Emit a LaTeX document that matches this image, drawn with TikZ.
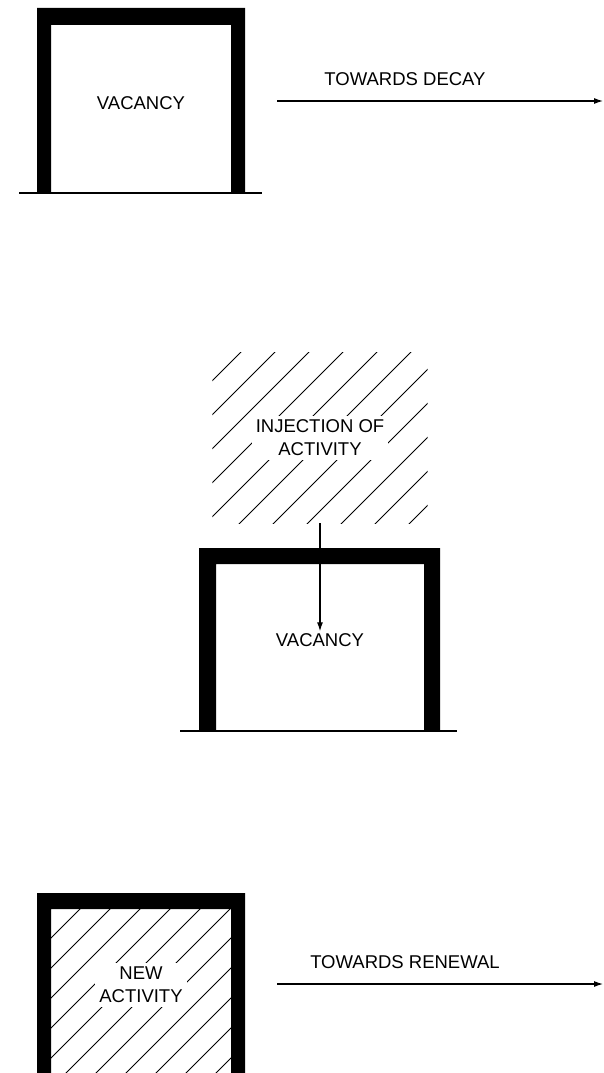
\documentclass[tikz,border=0pt]{standalone}
\usepackage{fontspec}
\setmainfont{Liberation Sans}
\usetikzlibrary{arrows.meta,positioning}

\begin{document}
\begin{tikzpicture}[
            x=1pt, y=-1pt,
            txt/.style={font=\fontsize{18.5}{23}\selectfont, align=center, inner sep=2pt},
            hatchtxt/.style={txt, fill=white, inner sep=4pt},
            wall/.style={fill=black},
            ground/.style={line width=1.5pt},
            hatch/.style={line width=1pt},
            arrow/.style={-{Latex[length=9pt,width=6pt]}, line width=1.1pt}
        ]
            \useasboundingbox (0,0) rectangle (603,1073);

            % vacancy, towards decay
            \fill[wall] (37,8) -| (245,193) -- (231,193) |- (51,25) -- (51,193) -- (37,193) -- cycle;
            \draw[ground] (19,193) -- (262,193);
            \node[txt] (vacA) at (141,103) {VACANCY};
            \coordinate (decayL) at (277,101);
            \coordinate (decayR) at (603,101);
            \draw[arrow] (decayL) -- (decayR);
            \node[txt] (decay) at (405,79) {TOWARDS DECAY};

            % injection of activity
            \node[minimum width=215pt, minimum height=170pt, inner sep=0pt] (inj) at (320,438) {};
            \begin{scope}
                \clip (inj.north west) rectangle (inj.south east);
                \foreach \c in {593,627,...,961}
                    \draw[hatch] (\c-1100,1100) -- (\c,0);
            \end{scope}
            \node[hatchtxt] (injTxt) at (320,438) {INJECTION OF\\ACTIVITY};
            \fill[wall] (199,548) -| (440,731) -- (424,731) |- (216,564) -- (216,731) -- (199,731) -- cycle;
            \draw[ground] (180,731) -- (457,731);
            \node[txt] (vacB) at (320,640) {VACANCY};
            \draw[arrow] (inj.south) -- (vacB.north);

            % new activity, towards renewal
            \begin{scope}
                \clip (51,909) rectangle (231,1073);
                \foreach \c in {959,989,...,1319}
                    \draw[hatch] (\c-1100,1100) -- (\c,0);
            \end{scope}
            \fill[wall] (37,893) -| (245,1080) -- (231,1080) |- (51,909) -- (51,1080) -- (37,1080) -- cycle;
            \node[hatchtxt] (newAct) at (141,985) {NEW\\ACTIVITY};
            \coordinate (renewL) at (277,984);
            \coordinate (renewR) at (603,984);
            \draw[arrow] (renewL) -- (renewR);
            \node[txt] (renew) at (405,962) {TOWARDS RENEWAL};
        \end{tikzpicture}
\end{document}
